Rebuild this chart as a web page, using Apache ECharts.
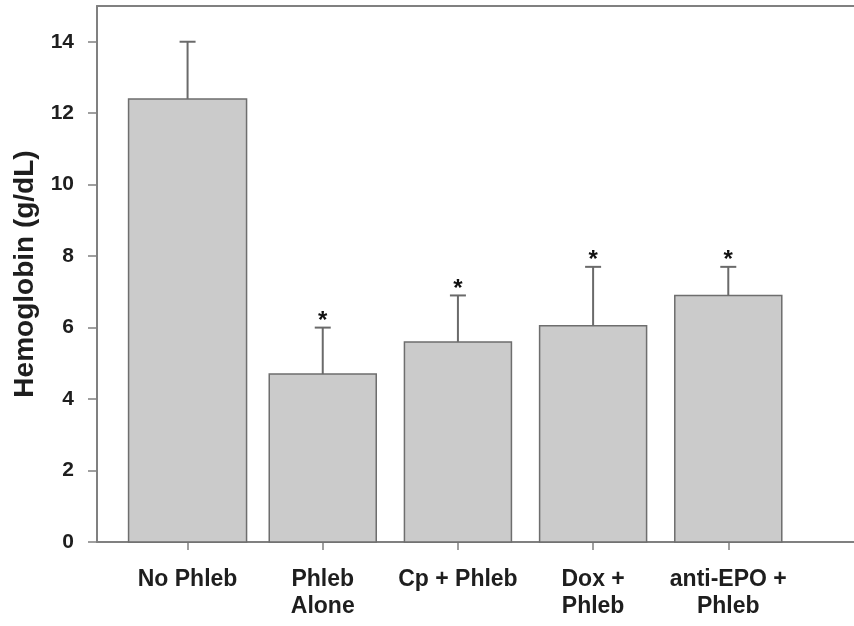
<!DOCTYPE html>
<html>
<head>
<meta charset="utf-8">
<script src="https://cdn.jsdelivr.net/npm/echarts@6/dist/echarts.min.js"></script>
<style>
html, body { margin: 0; padding: 0; background: #fff; }
#chart { width: 854px; height: 626px; }
</style>
</head>
<body>
<div id="chart"></div>
<script>
// 数据
var categories = ['No Phleb', 'Phleb\nAlone', 'Cp + Phleb', 'Dox +\nPhleb', 'anti-EPO +\nPhleb'];
var means = [12.4, 4.7, 5.6, 6.05, 6.9];
var errors = [1.6, 1.3, 1.3, 1.65, 0.8];
var significant = [false, true, true, true, true];
var yTicks = [0, 2, 4, 6, 8, 10, 12, 14];
var catIndex = [0, 1, 2, 3, 4];

var axisColor = '#808080';
var textColor = '#1e1e1e';
var fontFamily = '"Liberation Sans", Arial, Helvetica, sans-serif';

var barData = [];
var errData = [];
for (var i = 0; i < categories.length; i++) {
	barData.push([i, means[i]]);
	errData.push([i, means[i], means[i] + errors[i], significant[i] ? 1 : 0]);
}

var myChart = echarts.init(document.getElementById('chart'));
var option = {
	animation: false,
	backgroundColor: '#fff',
	grid: {
		left: 97,
		right: 0,
		top: 6,
		bottom: 84,
		outerBoundsMode: 'none',
		containLabel: false
	},
	xAxis: [{
		type: 'value',
		min: -0.67,
		max: 4.93,
		splitLine: { show: false },
		axisLine: { show: true, onZero: false, lineStyle: { color: axisColor, width: 2 } },
		axisTick: {
			show: true,
			length: 8,
			customValues: catIndex,
			lineStyle: { color: axisColor, width: 1.5 }
		},
		axisLabel: {
			customValues: catIndex,
			margin: 24,
			color: textColor,
			fontFamily: fontFamily,
			fontWeight: 'bold',
			fontSize: 23,
			lineHeight: 27,
			formatter: function(v) {
				return categories[Math.round(v)];
			}
		}
	}, {
		type: 'value',
		position: 'top',
		min: -0.67,
		max: 4.93,
		splitLine: { show: false },
		axisLine: { show: true, onZero: false, lineStyle: { color: axisColor, width: 2 } },
		axisTick: { show: false },
		axisLabel: { show: false }
	}],
	yAxis: {
		type: 'value',
		min: 0,
		max: 15,
		name: 'Hemoglobin (g/dL)',
		nameLocation: 'middle',
		nameGap: 52,
		nameTextStyle: {
			color: textColor,
			fontFamily: fontFamily,
			fontWeight: 'bold',
			fontSize: 28
		},
		splitLine: { show: false },
		axisLine: { show: true, onZero: false, lineStyle: { color: axisColor, width: 2 } },
		axisTick: {
			show: true,
			length: 9,
			customValues: yTicks,
			lineStyle: { color: axisColor, width: 1.5 }
		},
		axisLabel: {
			customValues: yTicks,
			margin: 23,
			color: textColor,
			fontFamily: fontFamily,
			fontWeight: 'bold',
			fontSize: 21
		}
	},
	series: [{
		// 柱子
		type: 'custom',
		xAxisIndex: 0,
		data: barData,
		z: 2,
		renderItem: function(params, api) {
			var idx = api.value(0);
			var top = api.coord([idx, api.value(1)]);
			var base = api.coord([idx, 0]);
			var w = idx === 0 ? 118 : 107;
			return {
				type: 'rect',
				shape: { x: top[0] - w / 2, y: top[1], width: w, height: base[1] - top[1] },
				style: { fill: '#cbcbcb', stroke: '#6e6e6e', lineWidth: 1.5 }
			};
		}
	}, {
		// 误差线 + 星号
		type: 'custom',
		xAxisIndex: 0,
		data: errData,
		z: 3,
		renderItem: function(params, api) {
			var idx = api.value(0);
			var low = api.coord([idx, api.value(1)]);
			var high = api.coord([idx, api.value(2)]);
			var children = [{
				type: 'line',
				shape: { x1: low[0], y1: low[1], x2: high[0], y2: high[1] },
				style: { stroke: '#6a6a6a', lineWidth: 2 }
			}, {
				type: 'line',
				shape: { x1: high[0] - 8, y1: high[1], x2: high[0] + 8, y2: high[1] },
				style: { stroke: '#6a6a6a', lineWidth: 2 }
			}];
			if (api.value(3)) {
				children.push({
					type: 'text',
					style: {
						text: '*',
						x: high[0],
						y: high[1] - 6,
						align: 'center',
						verticalAlign: 'middle',
						fill: '#111',
						font: 'bold 24px ' + fontFamily
					}
				});
			}
			return { type: 'group', children: children };
		}
	}]
};
myChart.setOption(option);
</script>
</body>
</html>
